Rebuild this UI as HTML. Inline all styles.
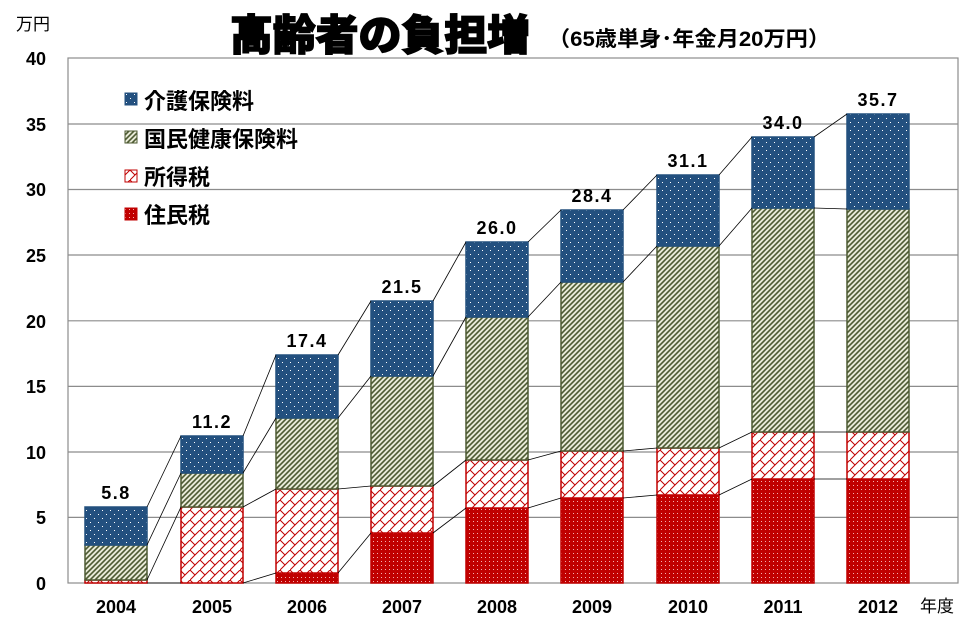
<!DOCTYPE html>
<html><head><meta charset="utf-8"><style>body{margin:0;background:#fff}svg{display:block}</style></head><body>
<svg width="974" height="636" viewBox="0 0 974 636" xmlns="http://www.w3.org/2000/svg" font-family="'Liberation Sans','Noto Sans CJK JP',sans-serif">
<defs>
<pattern id="pb" width="8" height="8" patternUnits="userSpaceOnUse"><rect width="8" height="8" fill="#23507f"/><rect x="2" y="2" width="1" height="1" fill="#fff"/><rect x="6" y="6" width="1" height="1" fill="#fff"/></pattern>
<pattern id="pg" width="5" height="5" patternUnits="userSpaceOnUse"><rect width="5" height="5" fill="#e8ead8"/><path d="M-1 6L6 -1M-1 1L1 -1M4 6L6 4" stroke="#4d5a32" stroke-width="1.6"/></pattern>
<pattern id="pt" width="10" height="10" patternUnits="userSpaceOnUse"><rect width="10" height="10" fill="#fff"/><path d="M0 10L10 0M0 0L5 5" stroke="#c00000" stroke-width="1"/></pattern>
<pattern id="pr" width="4" height="4" patternUnits="userSpaceOnUse"><rect width="4" height="4" fill="#c00000"/><rect x="1" y="1" width="1" height="1" fill="#f3b0b0"/></pattern>
</defs>
<text x="16" y="30" font-size="17">万円</text>
<text x="230" y="50" font-size="42" font-weight="900" stroke="#000" stroke-width="1.5" textLength="300" lengthAdjust="spacingAndGlyphs">高齢者の負担増</text>
<text x="548" y="46" font-size="21" font-weight="bold" textLength="282" lengthAdjust="spacingAndGlyphs">（65歳単身･年金月20万円）</text>
<g stroke="#8c8c8c" stroke-width="1.2">
<line x1="68" x2="958" y1="517.4" y2="517.4"/><line x1="68" x2="958" y1="452" y2="452"/><line x1="68" x2="958" y1="386.4" y2="386.4"/><line x1="68" x2="958" y1="320.8" y2="320.8"/><line x1="68" x2="958" y1="255" y2="255"/><line x1="68" x2="958" y1="189.5" y2="189.5"/><line x1="68" x2="958" y1="124" y2="124"/>
</g>
<rect x="68" y="58" width="890" height="525" fill="none" stroke="#8c8c8c" stroke-width="1.2"/>
<g font-size="18" font-weight="bold" text-anchor="end">
<text x="46" y="590">0</text><text x="46" y="524">5</text><text x="46" y="459">10</text><text x="46" y="393">15</text><text x="46" y="328">20</text><text x="46" y="262">25</text><text x="46" y="196">30</text><text x="46" y="131">35</text><text x="46" y="65">40</text>
</g>
<g stroke-width="1.5">
<rect x="85" y="580" width="62" height="3" fill="url(#pt)" stroke="#c00000"/>
<rect x="85" y="545" width="62" height="35" fill="url(#pg)" stroke="#4d5a32"/>
<rect x="85" y="507" width="62" height="38" fill="url(#pb)" stroke="#23507f"/>
<rect x="181" y="507" width="62" height="76" fill="url(#pt)" stroke="#c00000"/>
<rect x="181" y="473" width="62" height="34" fill="url(#pg)" stroke="#4d5a32"/>
<rect x="181" y="436" width="62" height="37" fill="url(#pb)" stroke="#23507f"/>
<rect x="276" y="573" width="62" height="10" fill="url(#pr)" stroke="#c00000"/>
<rect x="276" y="489" width="62" height="84" fill="url(#pt)" stroke="#c00000"/>
<rect x="276" y="418" width="62" height="71" fill="url(#pg)" stroke="#4d5a32"/>
<rect x="276" y="355" width="62" height="63" fill="url(#pb)" stroke="#23507f"/>
<rect x="371" y="533" width="62" height="50" fill="url(#pr)" stroke="#c00000"/>
<rect x="371" y="486" width="62" height="47" fill="url(#pt)" stroke="#c00000"/>
<rect x="371" y="376" width="62" height="110" fill="url(#pg)" stroke="#4d5a32"/>
<rect x="371" y="301" width="62" height="75" fill="url(#pb)" stroke="#23507f"/>
<rect x="466" y="508" width="62" height="75" fill="url(#pr)" stroke="#c00000"/>
<rect x="466" y="460" width="62" height="48" fill="url(#pt)" stroke="#c00000"/>
<rect x="466" y="317" width="62" height="143" fill="url(#pg)" stroke="#4d5a32"/>
<rect x="466" y="242" width="62" height="75" fill="url(#pb)" stroke="#23507f"/>
<rect x="561" y="498" width="62" height="85" fill="url(#pr)" stroke="#c00000"/>
<rect x="561" y="451" width="62" height="47" fill="url(#pt)" stroke="#c00000"/>
<rect x="561" y="282" width="62" height="169" fill="url(#pg)" stroke="#4d5a32"/>
<rect x="561" y="210" width="62" height="72" fill="url(#pb)" stroke="#23507f"/>
<rect x="657" y="495" width="62" height="88" fill="url(#pr)" stroke="#c00000"/>
<rect x="657" y="448" width="62" height="47" fill="url(#pt)" stroke="#c00000"/>
<rect x="657" y="246" width="62" height="202" fill="url(#pg)" stroke="#4d5a32"/>
<rect x="657" y="175" width="62" height="71" fill="url(#pb)" stroke="#23507f"/>
<rect x="752" y="479" width="62" height="104" fill="url(#pr)" stroke="#c00000"/>
<rect x="752" y="432" width="62" height="47" fill="url(#pt)" stroke="#c00000"/>
<rect x="752" y="208" width="62" height="224" fill="url(#pg)" stroke="#4d5a32"/>
<rect x="752" y="137" width="62" height="71" fill="url(#pb)" stroke="#23507f"/>
<rect x="847" y="479" width="62" height="104" fill="url(#pr)" stroke="#c00000"/>
<rect x="847" y="432" width="62" height="47" fill="url(#pt)" stroke="#c00000"/>
<rect x="847" y="209" width="62" height="223" fill="url(#pg)" stroke="#4d5a32"/>
<rect x="847" y="114" width="62" height="95" fill="url(#pb)" stroke="#23507f"/>
</g>
<g stroke="#000" stroke-width="0.8" fill="none">
<polyline points="147,583 181,583"/><polyline points="243,583 276,573"/><polyline points="338,573 371,533"/><polyline points="433,533 466,508"/><polyline points="528,508 561,498"/><polyline points="623,498 657,495"/><polyline points="719,495 752,479"/><polyline points="814,479 847,479"/>
<polyline points="147,580 181,507"/><polyline points="243,507 276,489"/><polyline points="338,489 371,486"/><polyline points="433,486 466,460"/><polyline points="528,460 561,451"/><polyline points="623,451 657,448"/><polyline points="719,448 752,432"/><polyline points="814,432 847,432"/>
<polyline points="147,545 181,473"/><polyline points="243,473 276,418"/><polyline points="338,418 371,376"/><polyline points="433,376 466,317"/><polyline points="528,317 561,282"/><polyline points="623,282 657,246"/><polyline points="719,246 752,208"/><polyline points="814,208 847,209"/>
<polyline points="147,507 181,436"/><polyline points="243,436 276,355"/><polyline points="338,355 371,301"/><polyline points="433,301 466,242"/><polyline points="528,242 561,210"/><polyline points="623,210 657,175"/><polyline points="719,175 752,137"/><polyline points="814,137 847,114"/>
</g>
<g font-size="18" font-weight="bold" text-anchor="middle" letter-spacing="1.5">
<text x="116" y="499">5.8</text><text x="212" y="428">11.2</text><text x="307" y="347">17.4</text><text x="402" y="293">21.5</text><text x="497" y="234">26.0</text><text x="592" y="202">28.4</text><text x="688" y="167">31.1</text><text x="783" y="129">34.0</text><text x="878" y="106">35.7</text>
</g>
<g font-size="18" font-weight="bold" text-anchor="middle">
<text x="116" y="613">2004</text><text x="212" y="613">2005</text><text x="307" y="613">2006</text><text x="402" y="613">2007</text><text x="497" y="613">2008</text><text x="592" y="613">2009</text><text x="688" y="613">2010</text><text x="783" y="613">2011</text><text x="878" y="613">2012</text>
</g>
<text x="920" y="612" font-size="17">年度</text>
<g font-size="22" font-weight="bold">
<rect x="125" y="93" width="12" height="12" fill="url(#pb)" stroke="#23507f"/><text x="144" y="109">介護保険料</text>
<rect x="125" y="131" width="12" height="12" fill="url(#pg)" stroke="#4d5a32"/><text x="144" y="147">国民健康保険料</text>
<rect x="125" y="170" width="12" height="12" fill="url(#pt)" stroke="#c00000"/><text x="144" y="185">所得税</text>
<rect x="125" y="208" width="12" height="12" fill="url(#pr)" stroke="#c00000"/><text x="144" y="223">住民税</text>
</g>
</svg>
</body></html>
